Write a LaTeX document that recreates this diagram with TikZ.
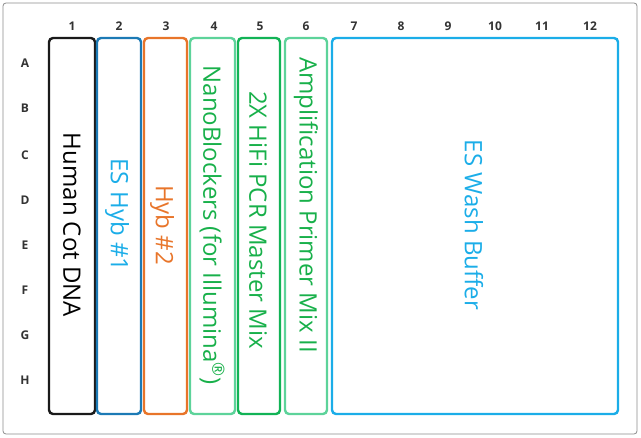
\documentclass[tikz,border=0pt]{standalone}
\usepackage{fontspec}
\setmainfont{Open Sans}
\definecolor{blk}{HTML}{1A1A1A}
\definecolor{hybblue}{HTML}{1C7AB5}
\definecolor{skyblue}{HTML}{1BADE8}
\definecolor{hyborange}{HTML}{E8752A}
\definecolor{palegreen}{HTML}{5DD39A}
\definecolor{deepgreen}{HTML}{12B356}
\definecolor{txtgreen}{HTML}{18B04A}
\tikzset{
  well/.style={draw, rounded corners=4pt, line width=2.4pt},
  reagent/.style={rotate=-90, font=\fontsize{24}{28}\selectfont},
  lbl/.style={font=\fontsize{12}{14}\selectfont\bfseries, text=black!80}
}
\begin{document}
\begin{tikzpicture}[x=1pt,y=-1pt]
  \useasboundingbox (0,0) rectangle (641,438);
  \draw[black!45, rounded corners=3pt, line width=0.8pt] (3,3) rectangle (637,434);
  % column numbers
  \foreach \n/\x in {1/72,2/119,3/166,4/214,5/260,6/306,7/354,8/401,9/448,10/495,11/542,12/590}
    \node[lbl] (col\n) at (\x,26) {\n};
  % row letters
  \foreach \r/\y in {A/63,B/108,C/155,D/200,E/245,F/290,G/335,H/380}
    \node[lbl] (row\r) at (25,\y) {\r};
  % wells
  \draw[well, blk] (49,38) rectangle (95,414);
  \draw[well, hybblue] (97,38) rectangle (141,414);
  \draw[well, hyborange] (144,38) rectangle (187,414);
  \draw[well, palegreen] (190,38) rectangle (235,414);
  \draw[well, deepgreen] (238,38) rectangle (280,414);
  \draw[well, palegreen] (285,38) rectangle (327,414);
  \draw[well, skyblue] (332,38) rectangle (618,414);
  % reagents
  \node[reagent, text=black] (cot) at (72,225) {Human Cot DNA};
  \node[reagent, text=skyblue] (eshyb) at (117,215) {ES Hyb \#1};
  \node[reagent, text=hyborange] (hyb) at (162,225) {Hyb \#2};
  \node[reagent, text=txtgreen] (nano) at (212,225) {NanoBlockers (for Illumina\textsuperscript{®})};
  \node[reagent, text=txtgreen] (pcr) at (258,220) {2X HiFi PCR Master Mix};
  \node[reagent, text=txtgreen] (primer) at (306,205) {Amplification Primer Mix II};
  \node[reagent, text=skyblue] (wash) at (474,225) {ES Wash Buffer};
\end{tikzpicture}
\end{document}
